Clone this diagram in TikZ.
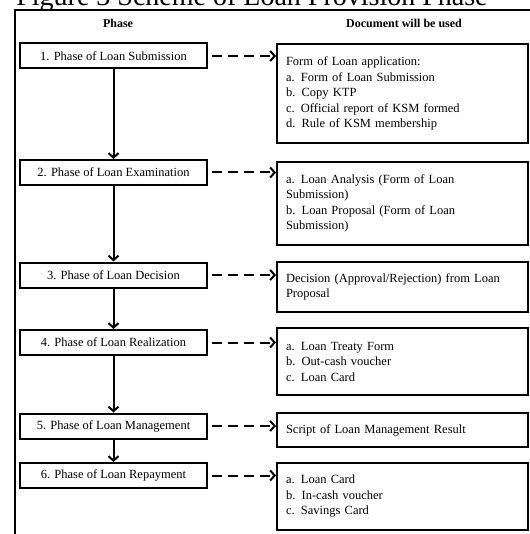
\documentclass[tikz,border=0pt]{standalone}
\usepackage{fontspec}
\setmainfont{Liberation Serif}
\usetikzlibrary{arrows.meta}
\tikzset{>={Straight Barb[length=4.5pt,width=10pt,line width=2pt]}}
\tikzset{
  phasebox/.style={draw, line width=2pt, minimum width=187pt, minimum height=25pt, inner sep=0pt, font=\fontsize{12.5}{15}\selectfont},
  docbox/.style={draw, line width=2pt, minimum width=251pt, text width=233pt, inner xsep=9pt, inner ysep=0pt, align=left, font=\fontsize{12.5}{15.5}\selectfont},
  flow/.style={->, line width=2pt},
  uses/.style={->, line width=2pt, dash pattern=on 10pt off 6pt, dash phase=-4pt},
  headtext/.style={font=\fontsize{12}{14}\selectfont\bfseries}
}

\begin{document}
\begin{tikzpicture}[x=1pt, y=-1pt]
	\useasboundingbox (0,0) rectangle (529,534);
	% title, cut by the page
	\node[anchor=base, inner sep=0pt, font=\fontsize{28}{30}\selectfont] (title) at (252,6) {Figure 3 Scheme of Loan Provision Phase};
	% frame
	\draw[line width=1.6pt] (15,540) |- (540,10);
	\node[headtext] (hphase) at (118,23) {Phase};
	\node[headtext] (hdoc) at (404,23) {Document will be used};
	% phases
	\node[phasebox] (p1) at (113.5,56) {1. Phase of Loan Submission};
	\node[phasebox] (p2) at (113.5,172.5) {2. Phase of Loan Examination};
	\node[phasebox] (p3) at (113.5,275) {3. Phase of Loan Decision};
	\node[phasebox] (p4) at (113.5,342.5) {4. Phase of Loan Realization};
	\node[phasebox] (p5) at (113.5,426) {5. Phase of Loan Management};
	\node[phasebox] (p6) at (113.5,475.5) {6. Phase of Loan Repayment};
	% documents
	\node[docbox, minimum height=99pt] (d1) at (402.5,93.5) {Form of Loan application:\\a. Form of Loan Submission\\b. Copy KTP\\c. Official report of KSM formed\\d. Rule of KSM membership};
	\node[docbox, minimum height=83pt] (d2) at (402.5,203.5) {a. Loan Analysis (Form of Loan\\Submission)\\b. Loan Proposal (Form of Loan\\Submission)};
	\node[docbox, minimum height=50pt] (d3) at (402.5,287) {Decision (Approval/Rejection) from Loan\\Proposal};
	\node[docbox, minimum height=67pt] (d4) at (402.5,361.5) {a. Loan Treaty Form\\b. Out-cash voucher\\c. Loan Card};
	\node[docbox, minimum height=34pt] (d5) at (402.5,430) {Script of Loan Management Result};
	\node[docbox, minimum height=67pt] (d6) at (402.5,496.5) {a. Loan Card\\b. In-cash voucher\\c. Savings Card};
	% connectors
	\foreach \i/\j in {1/2,2/3,3/4,4/5,5/6}
	\draw[flow] (p\i) -- (p\j);
	\foreach \i in {1,...,6}
	\draw[uses] (p\i.east) -- (p\i.east -| d\i.west);
\end{tikzpicture}
\end{document}
